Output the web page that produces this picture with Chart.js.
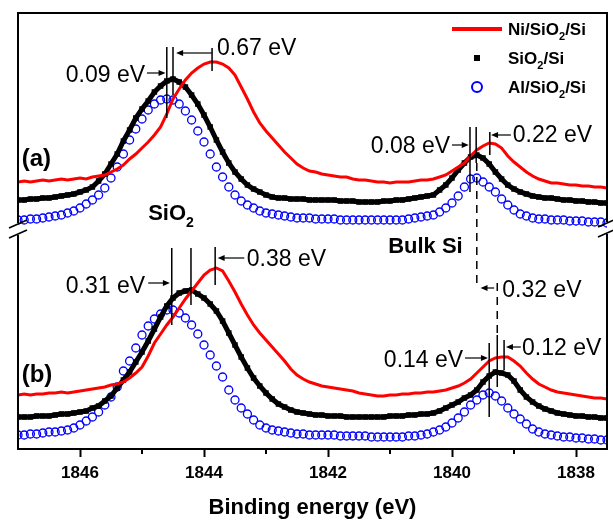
<!DOCTYPE html>
<html><head><meta charset="utf-8">
<script src="https://cdn.jsdelivr.net/npm/chart.js@4.4.1/dist/chart.umd.min.js"></script>
<style>html,body{margin:0;padding:0;background:#fff}#wrap{width:613px;height:521px}</style>
</head><body><div id="wrap"><canvas id="c" width="613" height="521"></canvas></div>
<script>
// Binding energy (eV), shared by all spectra
const energies = [
1847.0,1846.9,1846.8,1846.7,1846.6,1846.5,1846.4,1846.3,1846.2,1846.1,
1846.0,1845.9,1845.8,1845.7,1845.6,1845.5,1845.4,1845.3,1845.2,1845.1,
1845.0,1844.9,1844.8,1844.7,1844.6,1844.5,1844.4,1844.3,1844.2,1844.1,
1844.0,1843.9,1843.8,1843.7,1843.6,1843.5,1843.4,1843.3,1843.2,1843.1,
1843.0,1842.9,1842.8,1842.7,1842.6,1842.5,1842.4,1842.3,1842.2,1842.1,
1842.0,1841.9,1841.8,1841.7,1841.6,1841.5,1841.4,1841.3,1841.2,1841.1,
1841.0,1840.9,1840.8,1840.7,1840.6,1840.5,1840.4,1840.3,1840.2,1840.1,
1840.0,1839.9,1839.8,1839.7,1839.6,1839.5,1839.4,1839.3,1839.2,1839.1,
1839.0,1838.9,1838.8,1838.7,1838.6,1838.5,1838.4,1838.3,1838.2,1838.1,
1838.0,1837.9,1837.8,1837.7,1837.6,1837.5];

// Panel (a) intensities (a.u., offset stack)
const niA = [
268,269,268,269,270,269,270,271,270,271,
272,271,273,274,275,278,281,285,291,296,
302,308,315,323,336,351,361,370,377,382,
386,388,388,386,382,375,363,351,338,327,
319,312,305,298,292,286,282,279,278,276,
275,274,273,273,271,270,270,269,268,268,
267,268,268,268,269,270,270,271,273,275,
279,283,287,294,300,304,307,306,302,294,
288,283,278,274,271,269,267,267,266,265,
265,264,264,263,263,262];
const bareA = [
250,250,251,251,252,252,253,254,255,256,
258,260,263,269,276,286,296,309,320,332,
341,349,358,364,369,371,368,363,355,346,
335,323,310,298,287,278,271,265,261,258,
255,253,252,252,251,251,251,250,250,250,
250,250,249,249,249,248,248,248,248,249,
249,250,250,251,252,253,254,255,260,265,
272,280,287,293,295,292,286,278,271,265,
261,258,256,254,253,252,252,251,250,250,
249,249,248,248,247,247];
const alA = [
230,230,231,231,232,233,234,235,237,239,
242,246,250,255,262,272,283,296,310,321,
331,340,346,350,351,350,346,339,330,319,
308,296,283,273,263,255,249,245,242,239,
237,236,235,234,233,232,232,232,231,231,
231,231,230,230,230,230,230,230,230,230,
230,230,230,231,232,233,234,235,238,242,
247,254,263,271,272,268,263,258,251,245,
240,236,234,232,231,231,230,230,230,229,
229,229,228,228,228,227];

// Panel (b) intensities
const niB = [
55,56,55,56,56,57,57,58,57,58,
59,60,61,62,63,65,66,68,72,77,
83,94,107,116,125,133,142,151,159,167,
175,180,182,179,169,158,146,135,125,117,
110,103,96,89,81,75,71,68,66,64,
63,62,61,60,59,57,56,55,54,54,
55,55,56,56,57,57,58,58,59,60,
62,64,67,71,77,83,89,92,93,93,
89,84,77,71,66,63,60,58,57,56,
55,54,53,52,52,51];
const bareB = [
33,33,33,34,34,34,35,36,36,37,
38,39,42,44,49,54,62,70,78,88,
98,109,121,133,144,152,157,159,160,156,
152,146,139,129,117,105,93,82,72,64,
57,51,46,43,40,38,37,36,35,35,
34,34,34,33,33,33,33,33,33,33,
34,34,34,35,35,36,36,37,39,42,
45,48,52,55,60,68,74,78,77,75,
69,60,53,48,44,41,39,37,36,35,
34,34,33,33,32,32];
const alB = [
15,15,16,16,17,18,18,19,20,22,
25,29,33,38,45,53,63,79,89,102,
115,124,131,136,140,140,137,132,125,116,
105,95,84,73,60,50,42,36,30,25,
22,20,19,18,17,16,16,15,15,15,
15,15,14,14,14,14,14,13,13,13,
13,13,13,14,14,15,16,18,20,23,
27,32,38,45,50,55,57,54,49,42,
36,31,26,21,18,16,15,14,13,13,
12,12,11,11,10,10];

const majorTicks = [1846, 1844, 1842, 1840, 1838];
const minorTicks = [1845, 1843, 1841, 1839];
const legendNames = [['Ni/SiO','2','/Si'], ['SiO','2','/Si'], ['Al/SiO','2','/Si']];
const xTitle = 'Binding energy (eV)';
const breakAt = 221;

// peak marker lines: [energy, top, bottom]
const peakMarks = [
 [1844.60,403,332],[1844.50,403,355],[1843.87,402,379],
 [1839.71,323,258],[1839.61,323,287],[1839.39,318,295],
 [1844.52,202,125],[1844.21,202,145],[1843.82,203,165],
 [1839.40,107,33],[1839.27,115,63],[1839.16,110,80]];
// arrows: [from energy, tip energy, level]
const shiftArrows = [
 [1844.92,1844.62,377],[1843.87,1844.45,397],
 [1840.00,1839.73,305],[1839.05,1839.37,315],
 [1839.32,1839.54,162],
 [1844.90,1844.55,167],[1843.35,1843.78,192],
 [1839.79,1839.42,92],[1838.89,1839.13,103]];
// shift labels: [text, energy, level, align]
const shiftLabels = [
 ['0.09 eV',1844.95,368,'right'],['0.67 eV',1843.79,395,'left'],
 ['0.08 eV',1840.03,297,'right'],['0.22 eV',1839.02,308,'left'],
 ['0.32 eV',1839.19,153,'left'],
 ['0.31 eV',1844.95,157,'right'],['0.38 eV',1843.31,184,'left'],
 ['0.14 eV',1839.82,83,'right'],['0.12 eV',1838.87,95,'left']];
// dashed guide lines: [energy, top, bottom]
const dashGuides = [[1839.60,287,162],[1839.27,167,115]];
const panelLabels = [['(a)',1846.94,284],['(b)',1846.94,68]];
const peakNames = [[['SiO','2',''],1844.90,230],[['Bulk Si','',''],1841.03,197]];

const FF = '"Liberation Sans", Arial, sans-serif';
const pts = arr => energies.map((e,i)=>({x:e,y:arr[i]}));
const red = '#ff0000', blk = '#000000', blu = '#0000ff';

function redSet(arr){return {data:pts(arr),borderColor:red,borderWidth:3,pointRadius:0,showLine:true,order:1,tension:0};}
function blkSet(arr){return {data:pts(arr),borderColor:blk,backgroundColor:blk,borderWidth:5,pointStyle:'rect',pointRadius:3.9,pointBorderWidth:0,showLine:true,order:2};}
function bluSet(arr){return {data:pts(arr),borderColor:blu,backgroundColor:'rgba(0,0,0,0)',pointStyle:'circle',pointRadius:4,pointBorderWidth:1.3,showLine:false,order:3};}

function richText(ctx, parts, x, y, size, align){
  ctx.font = 'bold '+size+'px '+FF;
  const w0 = ctx.measureText(parts[0]).width;
  ctx.font = 'bold '+Math.round(size*0.62)+'px '+FF;
  const w1 = ctx.measureText(parts[1]).width;
  ctx.font = 'bold '+size+'px '+FF;
  const w2 = ctx.measureText(parts[2]).width;
  let sx = align==='right' ? x-(w0+w1+w2) : x;
  ctx.textAlign='left'; ctx.textBaseline='alphabetic';
  ctx.fillText(parts[0], sx, y);
  ctx.font = 'bold '+Math.round(size*0.62)+'px '+FF;
  ctx.fillText(parts[1], sx+w0, y+size*0.3);
  ctx.font = 'bold '+size+'px '+FF;
  ctx.fillText(parts[2], sx+w0+w1, y);
}

const decor = {
  id:'decor',
  afterDatasetsDraw(chart){
    const {ctx, chartArea:a, scales:{x,y}} = chart;
    ctx.save();
    ctx.strokeStyle='#000'; ctx.fillStyle='#000'; ctx.lineCap='butt';
    // frame
    ctx.lineWidth=2;
    const bk = y.getPixelForValue(breakAt);
    ctx.beginPath();
    ctx.moveTo(a.left, a.bottom); ctx.lineTo(a.left, bk+6);
    ctx.moveTo(a.left, bk-6); ctx.lineTo(a.left, a.top); ctx.lineTo(a.right, a.top); ctx.lineTo(a.right, bk-7);
    ctx.moveTo(a.right, bk+5); ctx.lineTo(a.right, a.bottom);
    ctx.stroke();
    ctx.lineWidth=1.6;
    ctx.beginPath();
    [[a.left,bk],[a.right,bk-1]].forEach(([px,py])=>{
      [-5,5].forEach(d=>{ctx.moveTo(px-9,py+d+4); ctx.lineTo(px+9,py+d-4);});
    });
    ctx.stroke();
    // minor ticks
    ctx.lineWidth=2;
    ctx.beginPath();
    minorTicks.forEach(v=>{const px=Math.round(x.getPixelForValue(v)); ctx.moveTo(px,a.bottom); ctx.lineTo(px,a.bottom+5);});
    ctx.stroke();
    // peak marker lines
    ctx.lineWidth=1.5;
    ctx.beginPath();
    peakMarks.forEach(([e,t,b])=>{const px=x.getPixelForValue(e); ctx.moveTo(px,y.getPixelForValue(t)); ctx.lineTo(px,y.getPixelForValue(b));});
    ctx.stroke();
    // dashed guides
    ctx.setLineDash([8,6]);
    ctx.beginPath();
    dashGuides.forEach(([e,t,b])=>{const px=x.getPixelForValue(e); ctx.moveTo(px,y.getPixelForValue(t)); ctx.lineTo(px,y.getPixelForValue(b));});
    ctx.stroke();
    ctx.setLineDash([]);
    // arrows
    ctx.lineWidth=1.2;
    shiftArrows.forEach(([f,t,l])=>{
      const x1=x.getPixelForValue(f), x2=x.getPixelForValue(t), py=y.getPixelForValue(l);
      const dir = x2>x1?1:-1;
      ctx.beginPath(); ctx.moveTo(x1,py); ctx.lineTo(x2-dir*6,py); ctx.stroke();
      ctx.beginPath(); ctx.moveTo(x2,py); ctx.lineTo(x2-dir*7,py-3); ctx.lineTo(x2-dir*7,py+3); ctx.closePath(); ctx.fill();
    });
    // shift labels
    ctx.font='23px '+FF; ctx.textBaseline='alphabetic';
    shiftLabels.forEach(([s,e,l,al])=>{ctx.textAlign=al; ctx.fillText(s,x.getPixelForValue(e),y.getPixelForValue(l));});
    // panel labels
    ctx.font='bold 24px '+FF; ctx.textAlign='left';
    panelLabels.forEach(([s,e,l])=>ctx.fillText(s,x.getPixelForValue(e),y.getPixelForValue(l)));
    peakNames.forEach(([p,e,l])=>richText(ctx,p,x.getPixelForValue(e),y.getPixelForValue(l),22,'left'));
    // legend
    const lx = a.right-130, tx = a.right-99;
    const rows=[a.top+22, a.top+51, a.top+80];
    ctx.strokeStyle=red; ctx.lineWidth=4;
    ctx.beginPath(); ctx.moveTo(lx-25,rows[0]-6); ctx.lineTo(lx+25,rows[0]-6); ctx.stroke();
    ctx.fillStyle=blk; ctx.fillRect(lx-3,rows[1]-9,6,6);
    ctx.strokeStyle=blu; ctx.lineWidth=2;
    ctx.beginPath(); ctx.arc(lx,rows[2]-6,5,0,Math.PI*2); ctx.stroke();
    ctx.fillStyle='#000';
    legendNames.forEach((p,i)=>richText(ctx,p,tx,rows[i],17,'left'));
    ctx.restore();
  }
};

new Chart(document.getElementById('c'), {
  type:'scatter',
  data:{datasets:[redSet(niA),blkSet(bareA),bluSet(alA),redSet(niB),blkSet(bareB),bluSet(alB)]},
  options:{
    responsive:false, animation:false, devicePixelRatio:1,
    layout:{padding:{left:18,right:6,top:13,bottom:0}},
    plugins:{legend:{display:false},tooltip:{enabled:false}},
    elements:{line:{tension:0}},
    scales:{
      x:{type:'linear',reverse:true,min:1837.5,max:1847,
        afterBuildTicks:s=>{s.ticks=majorTicks.map(v=>({value:v}));},
        afterFit:s=>{s.height=72;},
        grid:{display:true,drawOnChartArea:false,drawTicks:true,tickLength:8,tickWidth:2,tickColor:'#000',color:'#000'},
        border:{display:true,color:'#000',width:2},
        ticks:{padding:6,color:'#000',font:{family:FF,size:17,weight:'bold'},callback:v=>String(v),maxRotation:0,autoSkip:false},
        title:{display:true,text:xTitle,color:'#000',font:{family:FF,size:22,weight:'bold'},padding:{top:0,bottom:0}}
      },
      y:{display:false,min:1,max:437}
    }
  },
  plugins:[decor]
});
</script></body></html>
